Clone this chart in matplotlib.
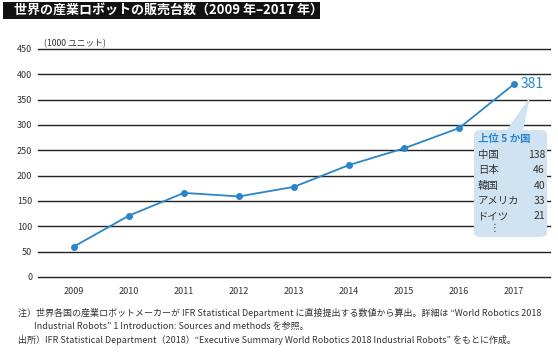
import matplotlib.pyplot as plt
from matplotlib.patches import FancyBboxPatch, Polygon, Rectangle

plt.rcParams['font.family'] = ['Noto Sans CJK JP', 'DejaVu Sans']

# data
years = [2009, 2010, 2011, 2012, 2013, 2014, 2015, 2016, 2017]
units = [60, 121, 166, 159, 178, 221, 254, 294, 381]
top_countries = ['中国', '日本', '韓国', 'アメリカ', 'ドイツ']
top_values = [138, 46, 40, 33, 21]

blue = '#2a86c8'
W, H = 558, 359
fig = plt.figure(figsize=(W / 100, H / 100), dpi=100)


def px(x, y):
    return (x / W, 1 - y / H)


# axes in pixel coordinates: left 38, right 550, top 49, bottom 277
ax = fig.add_axes([38 / W, 1 - 277 / H, (550 - 38) / W, (277 - 49) / H])
ax.set_xlim(2008.35, 2017.65)
ax.set_ylim(0, 450)
ax.set_yticks(range(0, 451, 50))
for y in range(0, 451, 50):
    ax.axhline(y, color='#222222', lw=1.0, zorder=1, clip_on=False)
for s in ax.spines.values():
    s.set_visible(False)
ax.tick_params(length=0, labelsize=6.5, colors='#333333')
ax.tick_params(axis='x', pad=7)
ax.tick_params(axis='y', pad=4)
ax.set_xticks(years)
ax.set_xticklabels([str(y) for y in years])
ax.plot(years, units, color=blue, lw=1.3, marker='o', ms=4, zorder=3)
ax.text(2008.45, 452, '(1000 ユニット)', fontsize=6.3, color='#333333', va='bottom')

# value label for last point
ax.text(years[-1] + 0.12, units[-1], str(units[-1]), color=blue, fontsize=10,
        va='center', ha='left')

# callout box (figure pixel coords)
bx0, by0, bx1, by1 = 474, 130, 547, 237
box = FancyBboxPatch(px(bx0, by1), (bx1 - bx0) / W, (by1 - by0) / H,
                     boxstyle='round,pad=0,rounding_size=0.012',
                     transform=fig.transFigure, facecolor='#cfe3f3',
                     edgecolor='none', zorder=5)
fig.patches.append(box)
tri = Polygon([px(506, 131), px(523, 131), px(530, 97)], closed=True,
              transform=fig.transFigure, facecolor='#cfe3f3', edgecolor='none',
              zorder=5)
fig.patches.append(tri)

fig.text(*px(478, 139), '上位 5 か国', color=blue, fontsize=7.5,
         fontweight='bold', va='center', ha='left', zorder=6)
for i, (c, v) in enumerate(zip(top_countries, top_values)):
    yy = 155 + i * 15.3
    fig.text(*px(478, yy), c, fontsize=7.5, color='#333333', va='center', zorder=6)
    fig.text(*px(545, yy), str(v), fontsize=7.5, color='#333333', va='center',
             ha='right', zorder=6)
fig.text(*px(495, 228), '⋮', fontsize=7, color='#333333', va='center', ha='center',
         zorder=6)

# title bar
fig.patches.append(Rectangle(px(3, 19), 317 / W, 17 / H, transform=fig.transFigure,
                             facecolor='#111111', edgecolor='none'))
fig.text(*px(14, 10.5), '世界の産業ロボットの販売台数（2009 年–2017 年）', color='white',
         fontsize=9.4, fontweight='bold', va='center', ha='left')

# notes
notes = [
    (18, 313, '注）世界各国の産業ロボットメーカーが IFR Statistical Department に直接提出する数値から算出。詳細は “World Robotics 2018'),
    (34, 326, 'Industrial Robots” 1 Introduction: Sources and methods を参照。'),
    (18, 340, '出所）IFR Statistical Department（2018）“Executive Summary World Robotics 2018 Industrial Robots” をもとに作成。'),
]
for x, y, t in notes:
    fig.text(*px(x, y), t, fontsize=6.5, color='#333333', va='center', ha='left')

fig.savefig('out.png', dpi=100, facecolor='white')
